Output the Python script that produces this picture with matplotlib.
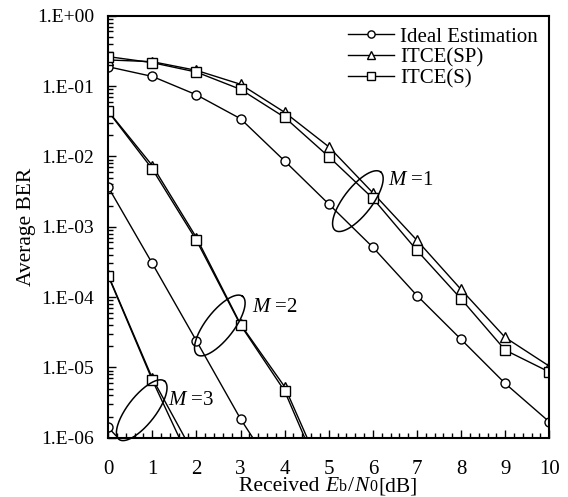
import numpy as np
import matplotlib
matplotlib.use("Agg")
import matplotlib.pyplot as plt
from matplotlib.ticker import FixedLocator, FuncFormatter, LogLocator, MultipleLocator
from matplotlib.offsetbox import TextArea, HPacker, AnchoredOffsetbox

plt.rcParams['font.family'] = ['Liberation Serif', 'DejaVu Serif']
plt.rcParams['mathtext.fontset'] = 'custom'
plt.rcParams['mathtext.rm'] = 'Liberation Serif'
plt.rcParams['mathtext.it'] = 'Liberation Serif:italic'
plt.rcParams['font.size'] = 14

## Data (values below 1E-06 only steer the lines out of the frame)
snr = [0, 1, 2, 3, 4, 5, 6, 7, 8, 9, 10]
ideal_m1 = [0.188, 0.137, 0.075, 0.0343, 0.0086, 0.0021, 5.1e-4, 1.05e-4, 2.5e-5, 5.9e-6, 1.68e-6]
sp_m1 = [0.235, 0.222, 0.167, 0.106, 0.0423, 0.0137, 0.00303, 6.4e-4, 1.28e-4, 2.66e-5, 1.04e-5]
s_m1 = [0.262, 0.215, 0.158, 0.0897, 0.0359, 0.0099, 0.00253, 4.6e-4, 9.4e-5, 1.76e-5, 8.6e-6]

snr_m2 = [0, 1, 2, 3, 4]
ideal_m2 = [3.66e-3, 3.0e-4, 2.38e-5, 1.85e-6, 2.0e-7]
snr_m2_ce = [0, 1, 2, 3, 4, 5]
sp_m2 = [0.044, 7.4e-3, 7.0e-4, 4.1e-5, 5.3e-6, 2.0e-7]
s_m2 = [0.0435, 6.6e-3, 6.4e-4, 4.0e-5, 4.6e-6, 1.6e-7]

snr_m3 = [0, 1]
ideal_m3 = [1.4e-6, 3.0e-7]
snr_m3_ce = [0, 1, 2]
sp_m3 = [2.05e-4, 7.0e-6, 5.0e-7]
s_m3 = [2.0e-4, 6.6e-6, 3.0e-7]

ytick_vals = [1e0, 1e-1, 1e-2, 1e-3, 1e-4, 1e-5, 1e-6]

# group labels: (text, ellipse centre x, centre y, label x, label y)
groups = [("1", 5.66, 2.31e-3, 6.34, 4.6e-3),
          ("2", 2.53, 3.94e-5, 3.25, 7.2e-5),
          ("3", 0.76, 2.46e-6, 1.355, 3.4e-6)]

# x label pieces: (text, size, style)
xlabel_parts = [("Received ", 15.5, 'normal'), ("E", 15.5, 'italic'), ("b", 11.5, 'normal'),
                ("/", 15.5, 'normal'), ("N", 15.5, 'italic'), ("0", 11.5, 'normal'),
                ("[dB]", 15.5, 'normal')]


def draw_ellipse(ax, fig, xc, yc, a_px=37, b_px=14, angle=52):
    t = np.linspace(0, 2*np.pi, 200)
    th = np.deg2rad(angle)
    dx = a_px*np.cos(t)*np.cos(th) - b_px*np.sin(t)*np.sin(th)
    dy = a_px*np.cos(t)*np.sin(th) + b_px*np.sin(t)*np.cos(th)
    fig.canvas.draw()
    cx, cy = ax.transAxes.inverted().transform(ax.transData.transform((xc, yc)))
    bb = ax.get_window_extent()
    ax.plot(cx + dx/bb.width, cy + dy/bb.height, color='black', lw=1.1,
            transform=ax.transAxes, clip_on=False)


fig = plt.figure(figsize=(5.68, 4.97), dpi=100)
ax = fig.add_axes([0.1905, 0.1193, 0.7766, 0.8491])

mk = dict(color='black', lw=1.0, mfc='white', mec='black', mew=1.0, ms=6.5)
l1, = ax.plot(snr, ideal_m1, marker='o', label='Ideal Estimation', **mk)
l2, = ax.plot(snr, sp_m1, marker='^', label='ITCE(SP)', **mk)
l3, = ax.plot(snr, s_m1, marker='s', label='ITCE(S)', **mk)
ax.plot(snr_m2, ideal_m2, marker='o', **mk)
ax.plot(snr_m2_ce, sp_m2, marker='^', **mk)
ax.plot(snr_m2_ce, s_m2, marker='s', **mk)
ax.plot(snr_m3, ideal_m3, marker='o', **mk)
ax.plot(snr_m3_ce, sp_m3, marker='^', **mk)
ax.plot(snr_m3_ce, s_m3, marker='s', **mk)

ax.set_yscale('log')
ax.set_xlim(0, 10)
ax.set_ylim(1e-6, 1e0)
ax.yaxis.set_major_locator(FixedLocator(ytick_vals))
ax.yaxis.set_major_formatter(FuncFormatter(lambda v, p: "1.E%+03d" % int(round(np.log10(v)))))
ax.yaxis.set_minor_locator(LogLocator(base=10, subs=np.arange(2, 10)))
ax.yaxis.set_minor_formatter(FuncFormatter(lambda v, p: ""))
ax.xaxis.set_major_locator(MultipleLocator(1))
ax.xaxis.set_minor_locator(MultipleLocator(0.2))

ax.tick_params(which='both', direction='in', top=False, right=False, width=1.0)
ax.tick_params(which='major', length=6)
ax.tick_params(which='minor', length=3.5)
ax.tick_params(axis='y', which='major', pad=10)
ax.tick_params(axis='x', which='major', pad=16, labelsize=15)
for sp in ax.spines.values():
    sp.set_linewidth(1.5)

ax.set_ylabel('Average BER', labelpad=1, fontsize=15.5)

# x label built from pieces so the subscripts sit near the baseline
pieces = [TextArea(s, textprops=dict(size=sz, style=st, family='Liberation Serif'))
          for s, sz, st in xlabel_parts]
row = HPacker(children=pieces, align='baseline', pad=0, sep=0.5)
xl = AnchoredOffsetbox(loc='upper center', child=row, pad=0, borderpad=0, frameon=False,
                       bbox_to_anchor=(0.578, 0.040), bbox_transform=fig.transFigure)
fig.add_artist(xl)

leg = ax.legend(handles=[l1, l2, l3], loc='upper right', bbox_to_anchor=(1.0, 1.0),
                frameon=False, handlelength=2.2, handletextpad=0.3, labelspacing=0.05,
                markerscale=0.8, borderaxespad=0.15, fontsize=15)

for txt, xc, yc, lx, ly in groups:
    draw_ellipse(ax, fig, xc, yc)
    ax.text(lx, ly, r'$M$ =' + txt, ha='left', va='center', fontsize=15)

fig.savefig('out.png', dpi=100)
